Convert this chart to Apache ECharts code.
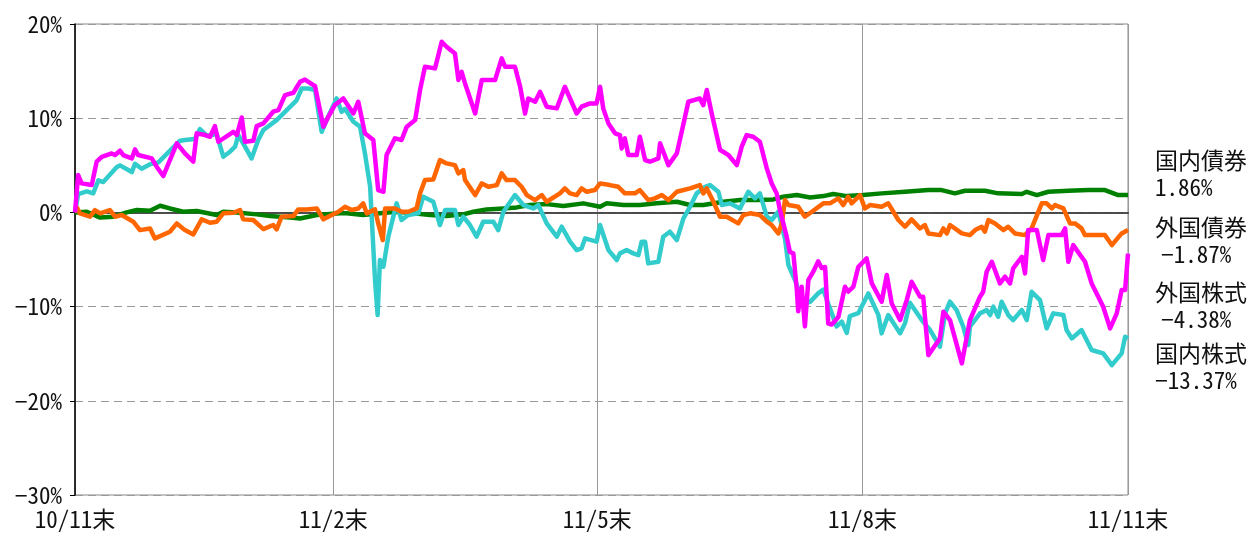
<!DOCTYPE html>
<html><head><meta charset="utf-8">
<script src="https://cdn.jsdelivr.net/npm/echarts@6/dist/echarts.min.js"></script>
<style>html,body{margin:0;padding:0;background:#fff}#c{width:1250px;height:533px}</style>
</head><body><div id="c"></div>
<script>
// x = days elapsed since end of Nov 2010 (month-end tick positions)
const xTickDays = [0, 89.5, 181, 273, 365];
const xTickLabels = ['10/11末', '11/2末', '11/5末', '11/8末', '11/11末'];
const seriesNames = ['国内債券', '外国債券', '外国株式', '国内株式'];
const finalValues = [1.86, -1.87, -4.38, -13.37];
const seriesColors = ['#008000', '#FF6600', '#FF00FF', '#33CCCC'];

const domesticBond = [[0,0],[4.1,0.07],[8.7,-0.55],[13.3,-0.46],[17.9,0],[21.4,0.25],[26.0,0.18],[29.5,0.71],[32.9,0.42],[37.5,0.07],[42.2,0.14],[49.1,-0.28],[51.4,0.07],[56.1,0],[63.0,-0.21],[67.6,-0.39],[74.5,-0.53],[78.0,-0.64],[83.8,-0.28],[91.9,-0.1],[94.2,-0.1],[99.9,-0.28],[105.7,-0.1],[111.5,0.07],[117.3,-0.1],[123.1,-0.28],[128.8,-0.39],[134.6,-0.21],[138.1,0.07],[142.7,0.32],[148.5,0.42],[153.1,0.53],[157.7,0.78],[163.5,0.88],[169.3,0.67],[176.2,0.96],[182.0,0.6],[184.3,0.96],[190.1,0.78],[195.8,0.78],[201.6,0.96],[208.6,1.13],[213.2,0.78],[217.8,0.78],[224.7,1.13],[230.5,1.31],[236.3,1.31],[242.1,1.38],[245.5,1.66],[250.2,1.84],[254.8,1.59],[259.4,1.73],[262.8,1.95],[267.5,1.73],[273.2,1.84],[279.6,2.02],[287.7,2.19],[295.8,2.37],[300.4,2.37],[305.0,2.02],[308.5,2.3],[315.4,2.3],[320.0,2.02],[328.2,1.95],[329.9,2.19],[333.4,1.84],[337.4,2.19],[344.3,2.3],[351.2,2.37],[357.0,2.37],[361.6,1.84],[365,1.86]];

const foreignBond = [[0,0],[0.7,0.5],[1.7,-0.1],[5.2,-0.46],[6.9,0.25],[8.7,-0.1],[12.1,0.25],[13.9,-0.46],[16.2,-0.28],[20.2,-0.99],[22.5,-1.88],[26.0,-1.7],[27.7,-2.76],[32.9,-2.05],[35.3,-1.17],[38.1,-1.88],[41.0,-2.34],[43.9,-0.74],[46.8,-1.1],[49.1,-0.99],[51.4,-0.1],[54.9,-0.04],[57.2,0.25],[58.3,-0.74],[61.8,-0.81],[65.3,-1.77],[68.7,-1.34],[69.9,-1.8],[71.6,-0.46],[75.7,-0.39],[77.4,0.32],[80.3,0.32],[83.8,0.42],[86.1,-0.74],[89.0,-0.28],[91.3,0.07],[93.6,0.6],[95.9,0.25],[98.2,0.42],[99.9,0.96],[101.1,-0.1],[104.0,0.32],[105.1,-1.17],[106.7,-2.94],[107.5,0.42],[110.9,0.42],[113.2,0.07],[115.5,0.07],[118.4,0.42],[119.6,2.02],[121.3,3.43],[124.2,3.5],[126.5,5.56],[128.8,5.2],[131.7,5.02],[132.9,4.14],[134.6,4.49],[135.2,3.43],[138.7,1.84],[141.0,3.08],[143.3,2.72],[146.2,2.9],[147.9,4.14],[149.6,3.43],[152.5,3.43],[154.8,2.72],[156.6,1.84],[159.5,1.31],[161.8,1.84],[163.5,1.13],[168.1,2.02],[169.8,2.55],[171.6,2.02],[173.9,1.84],[175.6,2.55],[177.4,2.19],[180.2,2.37],[182.0,3.08],[185.4,2.9],[188.3,2.72],[190.6,2.02],[194.1,2.02],[195.8,2.37],[198.7,1.31],[201.0,1.49],[203.4,1.84],[205.7,1.31],[208.6,2.19],[213.2,2.55],[216.6,2.9],[217.8,2.02],[219.0,2.55],[221.3,1.13],[223.6,-0.46],[225.9,-0.46],[229.9,-1.17],[231.7,-0.28],[234.0,-0.1],[237.4,-0.28],[239.8,-0.99],[241.5,-1.34],[243.8,-2.23],[245.0,-1.17],[246.1,1.31],[247.3,0.78],[250.7,0.6],[253.0,-0.46],[255.4,0.07],[259.4,0.96],[261.7,0.96],[264.6,1.49],[266.3,0.78],[268.0,1.66],[269.2,0.96],[272.1,1.84],[273.8,0.42],[275.6,0.78],[279.6,0.6],[281.9,0.96],[285.4,-0.81],[287.7,-1.52],[290.0,-0.74],[292.9,-1.7],[294.6,-1.34],[295.8,-2.23],[299.8,-2.41],[301.0,-1.7],[302.2,-2.23],[303.3,-1.34],[307.4,-2.23],[310.2,-2.41],[312.0,-1.88],[314.3,-1.52],[315.4,-2.05],[316.6,-0.81],[318.9,-1.17],[321.8,-1.88],[323.5,-1.52],[325.8,-2.23],[329.3,-2.41],[331.6,-1.7],[335.1,0.96],[336.8,0.96],[338.6,0.42],[339.7,0.78],[342.6,0.42],[344.9,-1.17],[346.6,-1.17],[348.9,-1.7],[350.1,-2.41],[357.0,-2.41],[359.4,-3.47],[362.8,-2.23],[365,-1.87]];

const domesticStock = [[0,0],[1.1,1.95],[4.1,2.23],[6.3,2.02],[8.1,3.4],[9.8,3.22],[14.5,4.81],[15.6,4.99],[19.7,4.28],[20.8,5.17],[23.1,4.64],[26.0,5.1],[28.9,5.31],[36.4,7.61],[38.1,7.68],[41.6,7.79],[43.3,8.85],[45.7,8.14],[49.1,8.32],[51.4,5.91],[53.7,6.44],[55.5,6.97],[56.6,8.2],[58.3,7.33],[61.2,5.73],[63.5,7.68],[65.3,8.74],[69.9,9.8],[73.4,10.86],[76.8,11.9],[78.6,13.16],[80.9,13.16],[83.2,13.0],[85.5,8.56],[87.2,9.8],[90.7,12.1],[92.4,10.69],[93.6,11.0],[96.5,9.62],[98.8,9.1],[100.5,6.26],[102.3,2.72],[104.0,-7.18],[104.9,-10.9],[105.7,-5.06],[106.9,-5.77],[108.6,-2.58],[111.5,0.96],[113.2,-0.81],[115.5,-0.28],[119.0,-0.1],[120.7,1.66],[124.2,1.13],[126.5,-1.34],[128.3,0.25],[131.7,0.25],[132.9,-1.34],[134.6,-0.46],[136.9,-1.34],[139.2,-2.58],[141.5,-0.99],[145.0,-0.99],[146.7,-1.88],[148.5,0.07],[152.5,1.84],[155.4,0.78],[158.9,0.42],[160.6,0.78],[163.5,-1.17],[167.0,-2.58],[168.7,-1.52],[171.6,-3.11],[173.9,-4.0],[175.6,-3.82],[176.8,-2.76],[180.8,-3.11],[182.0,-1.34],[184.9,-4.0],[187.8,-5.06],[188.9,-4.35],[191.2,-4.0],[193.5,-4.35],[195.3,-4.53],[196.4,-3.11],[197.6,-3.11],[198.7,-5.41],[202.2,-5.24],[203.9,-2.58],[206.2,-2.05],[208.6,-2.94],[210.9,-0.64],[213.2,0.6],[215.5,2.02],[218.4,2.72],[220.1,2.9],[223.0,2.19],[224.2,0.78],[227.0,0.96],[230.5,0.42],[233.4,2.19],[235.7,1.49],[237.4,2.02],[239.8,-0.46],[241.5,-0.81],[243.8,0.07],[246.1,-2.8],[247.3,-5.6],[249.6,-7.2],[252.5,-9.7],[254.8,-9.5],[257.6,-8.6],[259.4,-8.2],[261.1,-9.7],[264.0,-12.1],[265.8,-11.6],[267.5,-12.8],[268.6,-11.0],[271.5,-10.7],[275.0,-8.6],[278.5,-10.9],[279.6,-12.84],[281.9,-10.9],[286.0,-12.84],[287.7,-11.78],[289.4,-9.59],[293.5,-11.43],[296.4,-12.49],[299.8,-14.26],[301.6,-10.72],[303.3,-9.48],[305.6,-10.37],[307.9,-12.14],[309.6,-14.08],[310.2,-12.14],[313.7,-10.72],[316.0,-10.37],[317.2,-10.9],[318.3,-10.01],[320.0,-11.08],[321.2,-9.48],[323.5,-10.9],[325.2,-11.43],[328.2,-10.37],[329.9,-11.43],[331.6,-8.42],[334.5,-9.31],[336.8,-12.31],[339.1,-10.72],[342.6,-10.9],[343.7,-12.49],[345.5,-13.38],[348.9,-12.49],[352.4,-14.61],[356.4,-14.97],[359.4,-16.21],[362.8,-14.97],[364.0,-13.2],[365,-13.37]];

const foreignStock = [[0,0],[1.1,3.96],[2.3,3.08],[5.8,2.9],[7.5,5.38],[9.3,5.9],[12.7,6.26],[13.9,6.09],[15.6,6.55],[16.7,6.09],[19.7,5.73],[20.8,6.69],[21.9,6.09],[26.6,5.73],[28.3,4.85],[30.6,3.86],[35.3,7.33],[38.1,6.26],[41.0,5.38],[42.2,8.39],[45.1,8.21],[46.8,8.03],[48.5,9.16],[49.7,7.5],[54.9,8.56],[56.1,8.21],[57.8,10.08],[58.9,7.5],[61.8,7.61],[63.0,9.16],[65.3,9.45],[68.7,10.69],[70.5,10.86],[72.8,12.45],[75.7,12.7],[78.0,13.86],[79.7,14.1],[83.2,13.4],[86.1,9.1],[87.8,10.15],[90.1,11.4],[93.0,12.1],[96.5,10.5],[98.2,11.75],[100.5,8.39],[103.4,7.68],[105.1,2.37],[106.9,2.19],[108.0,6.09],[110.9,7.86],[113.2,7.68],[115.0,9.1],[117.9,9.8],[119.6,12.99],[121.3,15.46],[124.8,15.29],[127.1,18.12],[128.8,17.59],[131.7,16.88],[132.9,14.05],[134.0,14.93],[135.2,13.69],[138.7,10.5],[141.0,14.05],[145.6,14.05],[147.9,16.35],[149.1,15.46],[152.5,15.46],[154.3,13.34],[156.0,10.5],[157.1,12.1],[159.5,11.75],[161.2,12.81],[163.5,11.22],[167.0,11.04],[169.8,13.34],[173.9,10.5],[175.6,11.22],[178.5,11.57],[180.8,11.57],[182.0,13.34],[183.1,11.04],[184.9,9.45],[187.2,8.39],[188.9,8.21],[189.5,6.79],[190.6,7.86],[191.8,6.09],[194.7,6.09],[195.8,8.03],[197.6,5.56],[199.3,5.38],[202.2,5.73],[202.8,7.33],[205.7,5.02],[208.6,6.26],[210.3,8.56],[212.6,11.75],[216.6,12.1],[217.8,11.39],[219.0,12.99],[220.7,10.5],[223.6,6.62],[224.7,6.44],[226.5,6.09],[229.4,5.02],[231.1,6.97],[232.8,8.21],[235.1,8.03],[237.4,7.5],[239.8,4.67],[241.5,3.08],[243.2,2.02],[244.4,0.2],[246.7,-2.6],[247.8,-4.2],[249.0,-4.35],[250.2,-8.2],[250.7,-10.5],[251.9,-7.9],[253.0,-12.1],[254.2,-7.2],[255.9,-6.3],[257.6,-5.2],[258.8,-5.9],[260.0,-5.8],[261.1,-11.8],[262.3,-11.9],[264.6,-11.1],[266.9,-7.9],[268.0,-8.4],[269.8,-7.9],[271.5,-5.8],[274.4,-4.88],[276.2,-7.54],[279.6,-9.48],[281.4,-6.65],[283.1,-9.66],[286.0,-11.43],[288.3,-9.31],[290.0,-7.36],[292.9,-8.95],[294.0,-8.95],[295.8,-15.15],[299.8,-13.38],[301.0,-10.55],[303.3,-11.43],[307.4,-16.03],[310.2,-11.43],[313.7,-8.95],[314.8,-8.42],[316.0,-6.3],[317.8,-5.24],[320.6,-7.54],[322.4,-6.83],[324.1,-7.54],[325.2,-5.94],[328.2,-4.71],[329.3,-6.48],[330.4,-1.88],[333.4,-1.88],[335.6,-5.06],[337.4,-2.41],[342.0,-2.41],[343.2,-1.7],[344.3,-5.24],[346.0,-3.47],[350.1,-5.24],[352.4,-7.54],[356.4,-10.01],[358.8,-12.31],[361.1,-10.72],[362.8,-8.24],[364.0,-8.24],[365,-4.38]];

const seriesData = [domesticBond, foreignBond, foreignStock, domesticStock];
const drawOrder = [0, 3, 1, 2]; // green, cyan, orange, magenta (top)

const fmtPct = v => (v < 0 ? '\u2212' + Math.abs(v) : String(v)) + '%';

const chart = echarts.init(document.getElementById('c'), null, {renderer: 'canvas'});
const font = '"Noto Sans Mono CJK JP", "Noto Sans CJK JP", monospace';

const series = drawOrder.map((i, k) => ({
  name: seriesNames[i],
  type: 'line',
  data: seriesData[i],
  showSymbol: false,
  symbol: 'none',
  animation: false,
  lineStyle: {color: seriesColors[i], width: 4.5, join: 'round'},
  itemStyle: {color: seriesColors[i]},
  z: 2 + k,
  markLine: k === 0 ? {
    silent: true, symbol: 'none', z: 1, animation: false,
    label: {show: false},
    lineStyle: {color: '#555', width: 1.5, type: 'solid'},
    data: [{yAxis: 0}]
  } : undefined
}));

const labelTops = [149, 216, 281, 342];
const graphics = [];
seriesNames.forEach((n, i) => {
  const v = finalValues[i];
  const indent = (v < 0 && Math.abs(v) < 10) ? 6 : 0;
  graphics.push({
    type: 'text', left: 1155, top: labelTops[i],
    style: {text: n, font: '23px ' + font, fill: '#111'}
  });
  graphics.push({
    type: 'text', left: 1155 + indent, top: labelTops[i] + 27,
    style: {text: fmtPct(v), font: '23px ' + font, fill: '#111'}
  });
});

chart.setOption({
  animation: false,
  backgroundColor: '#fff',
  grid: {left: 75, right: 122, top: 24, bottom: 38, show: true, borderColor: '#888', borderWidth: 1},
  xAxis: {
    type: 'value', min: 0, max: 365,
    axisLine: {show: true, lineStyle: {color: '#000', width: 1.5}},
    axisTick: {show: false, customValues: xTickDays},
    axisLabel: {
      customValues: xTickDays, margin: 13,
      formatter: v => xTickLabels[xTickDays.indexOf(v)] || '',
      fontFamily: font, fontSize: 23, color: '#111'
    },
    splitLine: {show: true, lineStyle: {color: '#999', width: 1, type: 'solid'}}
  },
  yAxis: {
    type: 'value', min: -30, max: 20, interval: 10,
    axisLine: {show: true, lineStyle: {color: '#000', width: 1.5}},
    axisTick: {show: true, length: 5, lineStyle: {color: '#000'}},
    axisLabel: {formatter: fmtPct, margin: 13, fontFamily: font, fontSize: 23, color: '#111'},
    splitLine: {show: true, lineStyle: {color: '#999', width: 1, type: [8, 5]}}
  },
  graphic: graphics,
  series: series
});
</script></body></html>
